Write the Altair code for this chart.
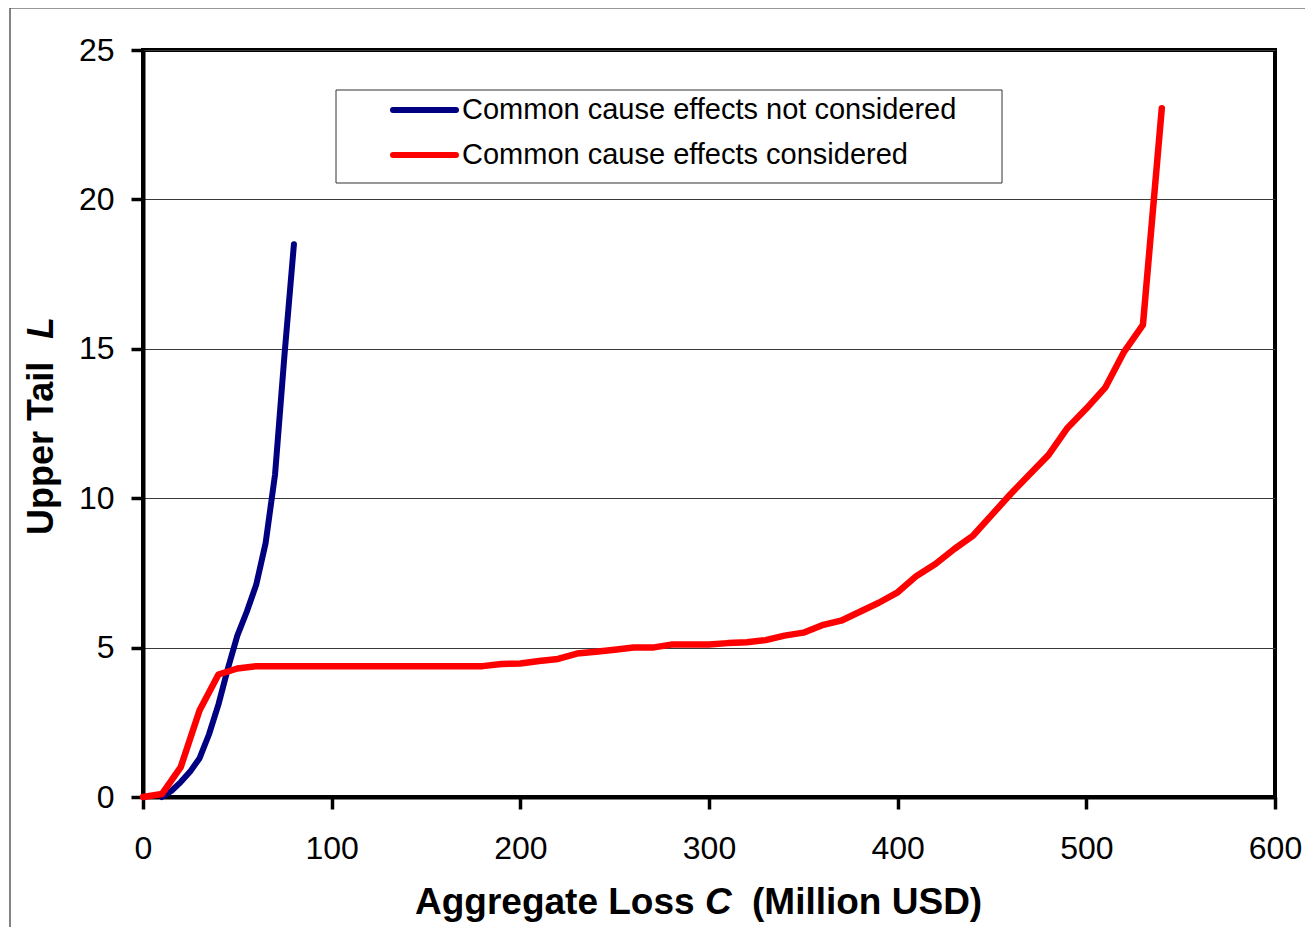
import altair as alt
import pandas as pd

# ---- data ----
series_names = ["Common cause effects not considered", "Common cause effects considered"]
series_colors = ["#000080", "#FF0000"]

blue_x = [10, 15, 20, 25, 30, 35, 40, 45, 50, 55, 60, 65, 70, 75, 80]
blue_y = [0.0, 0.2, 0.5, 0.85, 1.3, 2.1, 3.1, 4.3, 5.4, 6.2, 7.1, 8.5, 10.8, 14.8, 18.5]

red_x = [0, 10, 20, 30, 40, 50, 60, 70, 80, 90, 100, 110, 120, 130, 140, 150, 160, 170, 180,
         190, 200, 210, 220, 230, 240, 250, 260, 270, 280, 290, 300, 310, 320, 330, 340, 350,
         360, 370, 380, 390, 400, 410, 420, 430, 440, 450, 460, 470, 480, 490, 500, 510, 520,
         530, 540]
red_y = [0.0, 0.1, 1.0, 2.9, 4.1, 4.3, 4.38, 4.38, 4.38, 4.38, 4.38, 4.38, 4.38, 4.38, 4.38,
         4.38, 4.38, 4.38, 4.38, 4.45, 4.47, 4.55, 4.62, 4.8, 4.86, 4.93, 5.0, 5.0, 5.1, 5.1,
         5.1, 5.15, 5.18, 5.25, 5.4, 5.5, 5.75, 5.9, 6.2, 6.5, 6.85, 7.4, 7.8, 8.3, 8.75, 9.45,
         10.15, 10.8, 11.45, 12.35, 13.0, 13.7, 14.9, 15.8, 23.05]

x_ticks = [0, 100, 200, 300, 400, 500, 600]
y_ticks = [0, 5, 10, 15, 20, 25]
x_title_parts = ["Aggregate Loss", "C", "(Million USD)"]
y_title_parts = ["Upper Tail", "L"]

FONT = "Liberation Sans"
W, H = 1132, 747

df = pd.concat([
    pd.DataFrame({"C": blue_x, "L": blue_y, "series": series_names[0]}),
    pd.DataFrame({"C": red_x, "L": red_y, "series": series_names[1]}),
], ignore_index=True)

x_enc = alt.X("C:Q", scale=alt.Scale(domain=[0, 600], nice=False),
              axis=alt.Axis(values=x_ticks, title=None, grid=False, labelFontSize=32,
                            labelFont=FONT, labelColor="black", labelPadding=24,
                            tickSize=12, tickWidth=3.5, tickColor="black",
                            domainColor="black", domainWidth=4, labelFlush=False))
y_enc = alt.Y("L:Q", scale=alt.Scale(domain=[0, 25], nice=False),
              axis=alt.Axis(values=y_ticks, title=None, grid=True, gridColor="#3a3a3a",
                            gridWidth=1, labelFontSize=32, labelFont=FONT, labelColor="black",
                            labelPadding=17, tickSize=12, tickWidth=3.5, tickColor="black",
                            domainColor="black", domainWidth=4, labelFlush=False))
color_enc = alt.Color("series:N", scale=alt.Scale(domain=series_names, range=series_colors),
                      legend=None)

def line_layer(name, width):
    return alt.Chart(df).transform_filter(alt.datum.series == name).mark_line(
        strokeWidth=width, strokeCap="round", strokeJoin="round"
    ).encode(x=x_enc, y=y_enc, color=color_enc)

def text_layer(txt, x, y, size=37, weight="bold", **kw):
    return alt.Chart(pd.DataFrame({"t": [txt]})).mark_text(
        font=FONT, fontWeight=weight, fontSize=size, color="black", **kw
    ).encode(x=alt.value(x), y=alt.value(y), text="t:N")

box_df = pd.DataFrame({"k": [0]})
legend_box = alt.Chart(box_df).mark_rect(filled=False, stroke="#333333", strokeWidth=1).encode(
    x=alt.value(193), x2=alt.value(859), y=alt.value(40), y2=alt.value(133))
outer_box = alt.Chart(box_df).mark_rect(filled=False, stroke="#333333", strokeWidth=1.2).encode(
    x=alt.value(-133), x2=alt.value(1250), y=alt.value(-42), y2=alt.value(1000))

# manual legend (symbol line + label per series)
legend_layers = []
for i, (name, col) in enumerate(zip(series_names, series_colors)):
    ry = 60 + 45 * i
    legend_layers.append(
        alt.Chart(box_df).mark_rule(color=col, strokeWidth=6, strokeCap="round").encode(
            x=alt.value(250), x2=alt.value(313), y=alt.value(ry))
    )
    legend_layers.append(
        text_layer(name, 319, ry, size=29, weight="normal", align="left", baseline="middle")
    )

layers = [
    outer_box,
    legend_box,
    line_layer(series_names[0], 6),
    line_layer(series_names[1], 6.5),
    *legend_layers,
    text_layer(x_title_parts[0], 272, 864, align="left", baseline="alphabetic"),
    text_layer(x_title_parts[1], 562, 864, align="left", baseline="alphabetic", fontStyle="italic"),
    text_layer(x_title_parts[2], 609, 864, align="left", baseline="alphabetic"),
    text_layer(y_title_parts[0], -90, 485, size=36, align="left", baseline="alphabetic", angle=270),
    text_layer(y_title_parts[1], -90, 289, size=36, align="left", baseline="alphabetic", angle=270,
               fontStyle="italic"),
]

chart = alt.layer(*layers).properties(
    width=W, height=H,
    autosize=alt.AutoSizeParams(type="none"),
    padding={"left": 135, "top": 42, "right": 30, "bottom": 130},
).configure_view(stroke="black", strokeWidth=4)

chart.save("out.html", embed_options={"renderer": "svg", "actions": False})
